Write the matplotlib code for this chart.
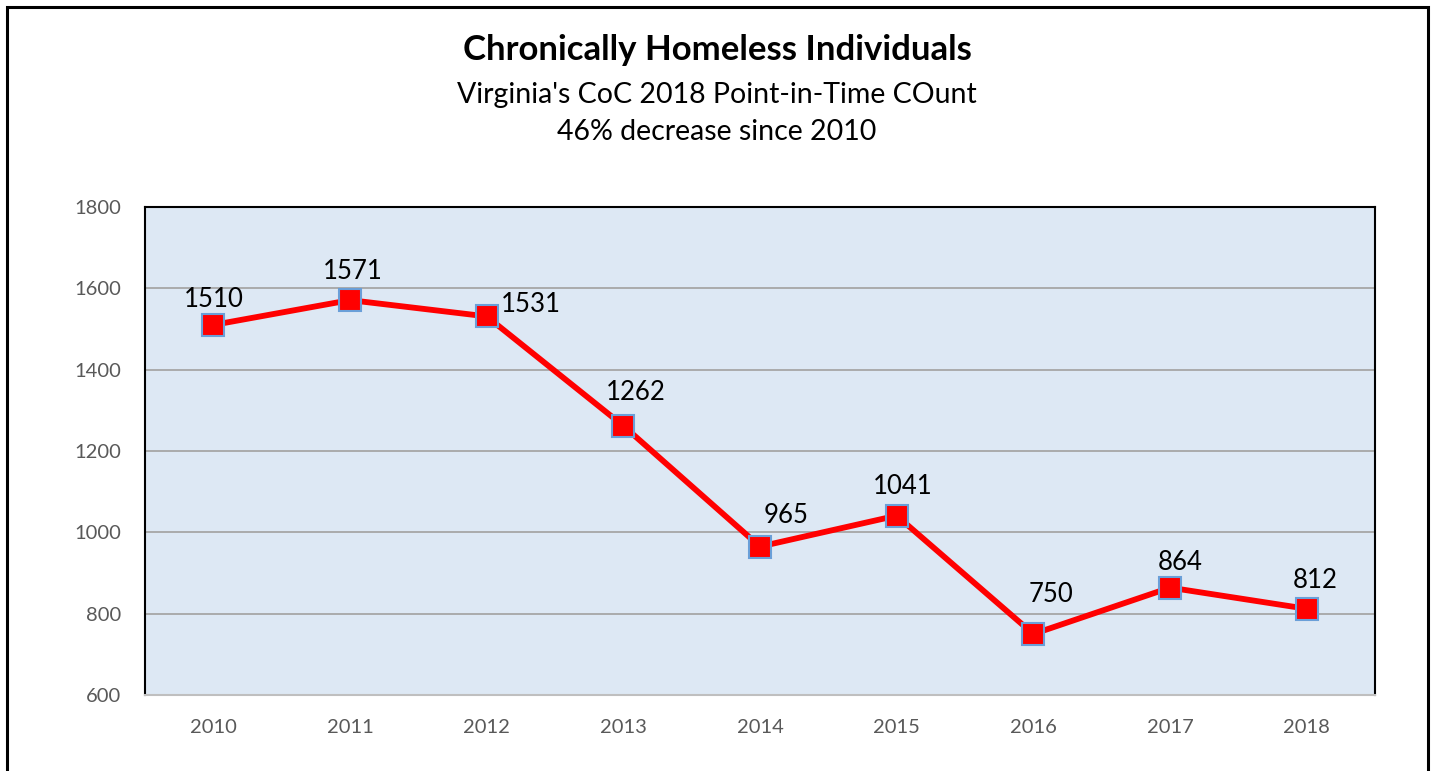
"""Chronically homeless individuals, Virginia CoC point-in-time count"""
import matplotlib
matplotlib.use("Agg")
import matplotlib.pyplot as plt
from matplotlib.patches import Rectangle

years = ["2010", "2011", "2012", "2013", "2014", "2015", "2016", "2017", "2018"]
counts = [1510, 1571, 1531, 1262, 965, 1041, 750, 864, 812]
# label offsets (pixels) relative to each marker
label_dx = [0, 3, 44, 12, 26, 6, 18, 10, 9]
label_dy = [25, 29, 12, 33, 31, 29, 39, 25, 28]

plt.rcParams['font.family'] = ['Lato', 'DejaVu Sans']

W, H = 1434, 771
fig = plt.figure(figsize=(W / 100, H / 100), dpi=100)
ax = fig.add_axes([145 / W, 1 - 695 / H, (1375 - 145) / W, (695 - 207) / H])

# outer chart border (bottom edge cut off)
fig.patches.append(Rectangle((7 / W, -0.02), (1428 - 7) / W, 1 - 7 / H + 0.02,
                             transform=fig.transFigure, fill=False,
                             edgecolor="black", linewidth=2.2))

ax.set_facecolor("#DDE8F4")
x = list(range(len(years)))
ax.plot(x, counts, color="#FF0000", linewidth=4.2, marker="s", markersize=15.5,
        markerfacecolor="#FF0000", markeredgecolor="#6A9FD8", markeredgewidth=1.5,
        zorder=3)

for i, v in enumerate(counts):
    ax.annotate(str(v), (x[i], v), xytext=(label_dx[i], label_dy[i]),
                textcoords="offset pixels", ha="center", va="center",
                fontsize=18.5, color="black")

ax.set_xlim(-0.5, len(years) - 0.5)
ax.set_ylim(600, 1800)
ax.set_yticks(range(600, 1801, 200))
ax.set_xticks(x)
ax.set_xticklabels(years)
ax.tick_params(axis="both", length=0, labelsize=14.5, labelcolor="#595959")
ax.tick_params(axis="y", pad=17)
ax.tick_params(axis="x", pad=17)

ax.yaxis.grid(True, color="#A6A6A6", linewidth=1.3)
ax.set_axisbelow(True)
for side in ("top", "left", "right"):
    ax.spines[side].set_color("black")
    ax.spines[side].set_linewidth(1.5)
ax.spines["bottom"].set_color("#BFBFBF")
ax.spines["bottom"].set_linewidth(1.5)

fig.text(0.5, 1 - 50 / H, "Chronically Homeless Individuals", ha="center",
         va="center", fontsize=25, fontweight="bold")
fig.text(0.5, 1 - 95 / H, "Virginia's CoC 2018 Point-in-Time COunt", ha="center",
         va="center", fontsize=20.5)
fig.text(0.5, 1 - 132 / H, "46% decrease since 2010", ha="center",
         va="center", fontsize=20.5)

fig.savefig("out.png", dpi=100)
